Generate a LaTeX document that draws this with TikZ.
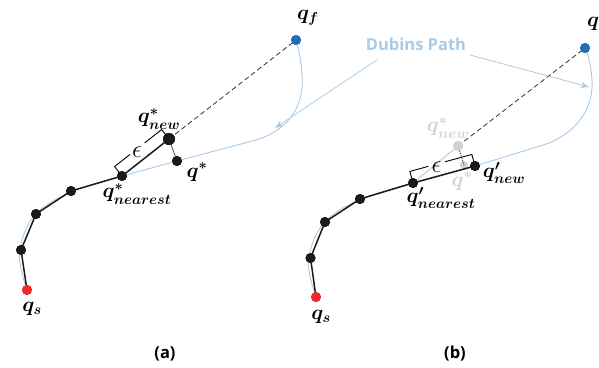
\documentclass[tikz,border=0pt]{standalone}
\usepackage{fontspec}
\setsansfont{Open Sans}
\usetikzlibrary{arrows.meta,calc}
\definecolor{dubins}{HTML}{A9CBE6}
\definecolor{treenode}{HTML}{1A1A1A}
\definecolor{goal}{HTML}{1F6FB8}
\definecolor{start}{HTML}{EE2A2A}
\definecolor{ghost}{HTML}{D2D2D2}
\begin{document}
\begin{tikzpicture}[x=1pt,y=-1pt,
  tn/.style={circle,fill=treenode,inner sep=0pt,minimum size=10pt},
  bignode/.style={tn,minimum size=12pt},
  gn/.style={tn,fill=goal},
  sn/.style={tn,fill=start},
  ghostnode/.style={tn,fill=ghost},
  lbl/.style={font=\boldmath\fontsize{21}{21}\selectfont,inner sep=0pt},
  ghostlbl/.style={lbl,text=ghost},
  eps/.style={font=\fontsize{24}{24}\selectfont,inner sep=1pt},
  edge/.style={line width=1.5pt,draw=treenode},
  thinedge/.style={line width=0.8pt,draw=black!70},
  dub/.style={line width=0.9pt,draw=dubins},
  dashline/.style={line width=0.8pt,draw=black!80,dash pattern=on 5pt off 3pt},
  brack/.style={line width=0.9pt,draw=black},
  caption/.style={font=\sffamily\bfseries\fontsize{16.5}{16.5}\selectfont},
  pointer/.style={line width=0.8pt,draw=dubins,-{Stealth[length=8pt,width=6pt,inset=2pt]}}
]
\useasboundingbox (0,0) rectangle (599,367);

% ---------------- panel (a) ----------------
\node[sn] (a0) at (27,290) {};
\node[tn] (a1) at (21,250) {};
\node[tn] (a2) at (36,214) {};
\node[tn] (a3) at (71,191) {};
\node[tn] (aN) at (122,176) {};
\node[bignode] (aW) at (169,139) {};
\node[tn] (aS) at (177,161) {};
\node[gn] (aF) at (296,40) {};
\coordinate (aTip) at (275,128);

% Dubins path (a)
\draw[dub] plot[smooth,tension=0.6] coordinates {(a0.center) (19.5,253) (34,216) (70,192.5) (aN.center)};
\draw[dub] (aN.center) -- (aS.center) -- (256,140) .. controls (286,131) and (305,108) .. (302,75) .. controls (301,58) and (298,48) .. (aF.center);
\draw[dashline] (aW.center) -- (aF.center);
\draw[edge] (a0.center) -- (a1.center) -- (a2.center) -- (a3.center) -- (aN.center) -- (aW.center);
\draw[thinedge] (aW.center) -- (aS.center);
\node[sn] at (a0) {};
\node[tn] at (a1) {};\node[tn] at (a2) {};\node[tn] at (a3) {};\node[tn] at (aN) {};
\node[bignode] at (aW) {};\node[tn] at (aS) {};\node[gn] at (aF) {};

% epsilon bracket (a)
\coordinate (ea1) at ($(aN)!3pt!90:(aW)$);
\coordinate (ea2) at ($(aN)!12pt!90:(aW)$);
\coordinate (ea3) at ($(aW)!12pt!-90:(aN)$);
\coordinate (ea4) at ($(aW)!3pt!-90:(aN)$);
\node[eps] (epsA) at ($(ea2)!0.48!(ea3)+(0,3)$) {$\epsilon$};
\draw[brack] (ea1) -- (ea2) -- ($(ea2)!0.33!(ea3)$);
\draw[brack] ($(ea2)!0.64!(ea3)$) -- (ea3) -- (ea4);

% labels (a)
\node[lbl] (la0) at (32,309) {$q_s$};
\node[lbl] (laF) at (308,18) {$q_f$};
\node[lbl] (laW) at (159,119) {$q^*_{new}$};
\node[lbl] (laS) at (197,172) {$q^*$};
\node[lbl] (laN) at (137,194) {$q^*_{nearest}$};

% ---------------- panel (b) ----------------
\node[sn] (b0) at (316,297) {};
\node[tn] (b1) at (310.5,258) {};
\node[tn] (b2) at (325,222) {};
\node[tn] (b3) at (360,199) {};
\node[tn] (bN) at (413,183) {};
\node[tn] (bW) at (475,166) {};
\node[ghostnode] (gW) at (458,146) {};
\node[ghostnode,minimum size=8pt] (gS) at (464,165) {};
\node[gn] (bF) at (585,48) {};
\coordinate (bTip) at (589,87);

\draw[dub] plot[smooth,tension=0.6] coordinates {(b0.center) (308.5,261) (323,224) (359,200) (bN.center)};
\draw[dub] (bN.center) -- (bW.center) -- (540,146) .. controls (572,137) and (594,112) .. (592,80) .. controls (591,64) and (588,54) .. (bF.center);
\draw[line width=1.2pt,draw=ghost] (bN.center) -- (gW.center);
\node[ghostnode,minimum size=8pt] at (gS) {};
\draw[dashline] (gW.center) -- (bF.center);
\draw[line width=0.8pt,draw=black!80,dash pattern=on 1.2pt off 1.2pt] (gW.center) -- (gS.center);
\node[ghostnode] at (gW) {};
\draw[edge] (b0.center) -- (b1.center) -- (b2.center) -- (b3.center) -- (bN.center) -- (bW.center);
\node[sn] at (b0) {};
\node[tn] at (b1) {};\node[tn] at (b2) {};\node[tn] at (b3) {};\node[tn] at (bN) {};
\node[tn] at (bW) {};\node[gn] at (bF) {};

% epsilon bracket (b)
\coordinate (eb1) at ($(bN)!4pt!90:(bW)$);
\coordinate (eb2) at ($(bN)!12pt!90:(bW)$);
\coordinate (eb3) at ($(bW)!12pt!-90:(bN)$);
\coordinate (eb4) at ($(bW)!4pt!-90:(bN)$);
\node[eps] (epsB) at ($(eb2)!0.43!(eb3)+(0,3)$) {$\epsilon$};
\draw[brack] (eb1) -- (eb2) -- ($(eb2)!0.30!(eb3)$);
\draw[brack] ($(eb2)!0.57!(eb3)$) -- (eb3) -- (eb4);

% labels (b)
\node[lbl] (lb0) at (321,317) {$q_s$};
\node[lbl,anchor=west] (lbF) at (587,25) {$q_f$};
\node[ghostlbl] (lgW) at (448,128) {$q^*_{new}$};
\node[ghostlbl] (lgS) at (462,181) {$q^*$};
\node[lbl] (lbW) at (504,173) {$q'_{new}$};
\node[lbl] (lbN) at (441,198) {$q'_{nearest}$};

% Dubins Path annotation
\node[caption,text=dubins] (dp) at (416,44) {Dubins Path};
\coordinate (dpL) at (377,60);
\coordinate (dpR) at (470,55);
\draw[pointer] (dpL) -- (aTip);
\draw[pointer] (dpR) -- (bTip);

% captions
\node[caption] (capA) at (165,354) {(a)};
\node[caption] (capB) at (455,354) {(b)};
\end{tikzpicture}
\end{document}
